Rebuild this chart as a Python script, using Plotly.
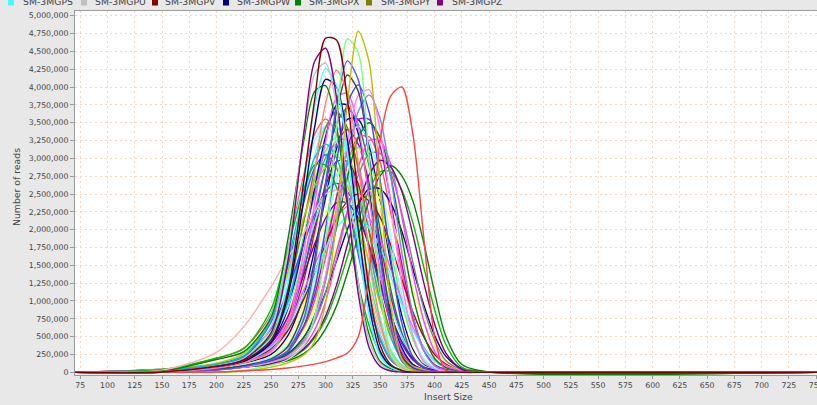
import plotly.graph_objects as go

# x positions (insert size) shared by all series
INSERT_SIZE = [70, 150, 200, 225, 250, 265, 280, 290, 300, 310, 320, 330, 340,
               350, 360, 370, 380, 390, 400, 410, 425, 450, 752]

# read counts in thousands, one list per sample
S21 = [0,36,190,340,817,1704,2769,3337,3550,3337,2769,1917,1101,533,195,71,21,7,4,0,0,0,0]
S22 = [0,20,92,165,462,990,1914,2574,3102,3300,3102,2574,1782,1023,495,182,66,20,7,3,0,0,0]
S23 = [0,20,72,130,293,585,1235,1885,2535,3055,3250,3055,2535,1755,1008,488,179,65,20,7,0,0,0]
S24 = [0,32,109,210,630,1330,2380,3045,3448,3448,3080,2310,1470,770,315,105,42,14,4,0,0,0,0]
S25 = [0,18,75,135,330,690,1440,2040,2610,2955,2955,2640,1980,1260,660,270,90,36,12,3,0,0,0]
S26 = [0,11,72,126,252,504,1080,1728,2448,3132,3546,3546,3168,2376,1512,792,324,108,43,14,4,0,0]
S27 = [0,19,90,160,448,960,1856,2496,3008,3200,3008,2496,1728,992,480,176,64,19,6,3,0,0,0]
S28 = [0,20,75,136,306,612,1292,1972,2652,3196,3400,3196,2652,1836,1054,510,187,68,20,7,0,0,0]
S29 = [0,28,96,186,558,1178,2108,2697,3054,3054,2728,2046,1302,682,279,93,37,12,3,0,0,0,0]
S30 = [0,10,64,112,224,448,960,1536,2176,2784,3152,3152,2816,2112,1344,704,288,96,38,13,3,0,0]
S31 = [0,20,83,149,363,759,1584,2244,2871,3251,3251,2904,2178,1386,726,297,99,40,13,3,0,0,0]
S32 = [0,22,81,148,333,666,1406,2146,2886,3478,3700,3478,2886,1998,1147,555,204,74,22,7,0,0,0]
S33 = [0,9,51,93,180,330,690,1140,1740,2340,2820,3000,2820,2340,1620,930,450,165,60,18,3,0,0]
S34 = [0,35,121,242,794,1656,2691,3243,3450,3243,2691,1863,1070,518,190,69,21,7,3,0,0,0,0]
S35 = [0,22,102,183,511,1095,2117,2847,3431,3650,3431,2847,1971,1132,548,201,73,22,7,4,0,0,0]
S36 = [0,10,50,94,168,302,603,1005,1608,2278,2915,3300,3300,2948,2211,1407,737,302,101,40,7,0,0]
S37 = [0,31,107,214,702,1464,2379,2867,3050,2867,2379,1647,946,458,168,61,18,6,3,0,0,0,0]
S38 = [0,9,54,98,189,347,725,1197,1827,2457,2961,3150,2961,2457,1701,977,473,173,63,19,3,0,0]
S39 = [0,11,54,101,180,324,648,1080,1728,2448,3132,3546,3546,3168,2376,1512,792,324,108,43,7,0,0]
S40 = [0,23,95,171,418,874,1824,2584,3306,3743,3743,3344,2508,1596,836,342,114,46,15,4,0,0,0]
S41 = [0,35,92,155,376,658,1152,1504,1857,2162,2327,2327,2162,1880,1434,1011,635,353,165,71,24,2,0]
S42 = [0,35,88,145,325,575,1025,1400,1800,2150,2400,2500,2400,2175,1775,1300,850,500,250,120,38,5,0]
S43 = [0,34,98,176,476,896,1596,2100,2520,2772,2772,2520,2072,1484,924,504,224,84,39,14,3,0,0]
S44 = [0,45,114,228,610,1140,1802,2226,2531,2650,2531,2239,1749,1219,742,398,172,69,32,11,3,0,0]
S45 = [0,20,61,99,179,319,587,905,1301,1734,2142,2435,2550,2435,2155,1683,1173,714,383,150,35,3,0]
S46 = [0,16,57,91,161,260,494,754,1118,1560,2002,2353,2574,2574,2366,1976,1456,949,520,230,50,5,0]
S47 = [0,33,86,145,352,616,1078,1408,1738,2024,2178,2178,2024,1760,1342,946,594,330,154,66,22,2,0]
S48 = [0,44,128,261,754,1392,2175,2610,2871,2871,2610,2146,1537,957,522,232,87,41,15,6,3,0,0]
S49 = [0,9,53,87,152,248,450,713,1116,1690,2263,2759,3069,3069,2790,2232,1550,899,450,170,40,3,0]
S50 = [0,29,84,151,408,768,1368,1800,2160,2376,2376,2160,1776,1272,792,432,192,72,34,12,2,0,0]
S51 = [0,10,59,107,207,380,794,1311,2001,2691,3243,3450,3243,2691,1863,1070,518,190,69,21,3,0,0]
S52 = [0,7,46,88,158,245,490,805,1330,2030,2730,3290,3500,3290,2730,1890,1085,525,193,70,14,0,0]
S53 = [0,3,40,73,132,198,363,594,990,1584,2244,2871,3251,3251,2904,2178,1386,726,297,99,20,0,0]
S54 = [0,32,112,224,736,1536,2496,3008,3200,3008,2496,1728,992,480,176,64,19,6,3,0,0,0,0]
S55 = [0,35,200,330,885,1711,2567,2906,2906,2596,1947,1239,649,266,89,35,12,3,0,0,0,0,0]
S17 = [0,9,43,74,125,182,312,483,738,1136,1619,2130,2556,2812,2812,2556,2102,1480,880,400,70,3,0]
S18 = [0,9,38,70,113,160,261,392,609,928,1392,1914,2407,2755,2900,2755,2407,1820,1120,520,110,5,0]
S19 = [0,6,42,75,125,179,328,507,790,1222,1788,2324,2771,2974,2876,2533,1937,1260,680,280,40,2,0]
S20 = [0,30,280,640,1200,1600,1950,2250,2500,2550,2350,1850,1200,620,250,80,20,5,0,0,0,0,0]
S16 = [0,8,71,138,308,652,1501,2370,3239,3851,3911,3437,2449,1422,652,217,71,20,4,0,0,0,0]
S15 = [0,0,35,74,140,222,420,720,1284,2101,2956,3657,3890,3559,2723,1673,817,303,93,27,4,0,0]
S14 = [0,0,36,85,169,282,645,1169,2015,2942,3768,4030,3647,2700,1572,685,222,69,16,4,0,0,0]
S13 = [0,0,28,72,140,220,420,760,1360,2280,3200,3880,3960,3400,2320,1240,520,152,48,12,0,0,0]
S12 = [0,4,71,150,417,1043,2419,3440,4107,4003,3253,2002,917,300,83,21,4,0,0,0,0,0,0]
S11 = [0,0,38,92,189,356,859,1592,2640,3645,4169,3939,3017,1760,775,230,67,17,4,0,0,0,0]
S10 = [0,0,59,131,288,678,1696,2798,3774,4236,3922,2926,1654,721,212,59,13,4,0,0,0,0,0]
S09 = [0,16,180,290,771,1827,3248,3938,4019,3451,2355,1259,528,154,49,12,0,0,0,0,0,0,0]
S08 = [0,0,31,79,176,300,750,1499,2602,3749,4366,4101,2999,1632,617,154,40,9,0,0,0,0,0]
S07 = [0,9,81,171,471,1220,2696,3724,4259,4023,3082,1798,792,235,68,17,4,0,0,0,0,0,0]
S06 = [0,9,92,197,635,1664,3329,4183,4336,3745,2497,1270,438,123,31,9,0,0,0,0,0,0,0]
S04 = [0,5,83,179,551,1515,3351,4361,4544,3856,2387,1102,344,83,18,5,0,0,0,0,0,0,0]
S03 = [0,5,86,167,454,1099,2677,3824,4684,4661,3824,2438,1147,382,105,24,5,0,0,0,0,0,0]
S02 = [0,0,0,29,100,176,372,787,1813,3434,4675,4484,2957,1193,262,48,10,0,0,0,0,0,0]
S01 = [0,0,0,14,72,130,242,435,966,2125,3767,4782,4347,2608,918,184,29,5,0,0,0,0,0]
S05 = [0,0,5,20,40,60,90,115,150,200,270,500,1400,3250,3880,4000,3350,1900,500,30,0,0,0]

SERIES = [
    ("SM-3MG21", "#ff5555", S21), ("SM-3MG22", "#55ff55", S22), ("SM-3MG23", "#ffff55", S23),
    ("SM-3MG24", "#55ffff", S24), ("SM-3MG25", "#c00000", S25), ("SM-3MG26", "#0000c0", S26),
    ("SM-3MG27", "#00c0c0", S27), ("SM-3MG28", "#c000c0", S28), ("SM-3MG29", "#40ff40", S29),
    ("SM-3MG30", "#ffff40", S30), ("SM-3MG31", "#ff40ff", S31), ("SM-3MG32", "#008080", S32),
    ("SM-3MG33", "#ffff80", S33), ("SM-3MG34", "#80ffff", S34), ("SM-3MGPY", "#808000", S35),
    ("SM-3MG36", "#ff5555", S36), ("SM-3MG37", "#5555ff", S37), ("SM-3MG38", "#55ff55", S38),
    ("SM-3MG39", "#c000c0", S39), ("SM-3MG40", "#0000c0", S40), ("SM-3MG41", "#ff55ff", S41),
    ("SM-3MG42", "#c00000", S42), ("SM-3MG43", "#55ffff", S43), ("SM-3MG44", "#4040ff", S44),
    ("SM-3MG45", "#ffff55", S45), ("SM-3MGPW", "#000080", S46), ("SM-3MG47", "#40ffff", S47),
    ("SM-3MG48", "#c0c000", S48), ("SM-3MG49", "#808080", S49), ("SM-3MG50", "#800080", S50),
    ("SM-3MG51", "#80ffff", S51), ("SM-3MG52", "#008000", S52), ("SM-3MG53", "#ff40ff", S53),
    ("SM-3MG54", "#00c0c0", S54), ("SM-3MG55", "#00c000", S55),
    ("SM-3MG17", "#00c000", S17), ("SM-3MGPX", "#008000", S18), ("SM-3MG19", "#800080", S19),
    ("SM-3MG20", "#ffafaf", S20), ("SM-3MG16", "#ff55ff", S16), ("SM-3MG15", "#8080ff", S15),
    ("SM-3MG14", "#4040ff", S14), ("SM-3MG13", "#ff80ff", S13), ("SM-3MG12", "#000080", S12),
    ("SM-3MG11", "#404040", S11), ("SM-3MG10", "#ff8080", S10), ("SM-3MG09", "#008000", S09),
    ("SM-3MG08", "#5555ff", S08), ("SM-3MGPS", "#40ffff", S07), ("SM-3MGPU", "#c0c0c0", S06),
    ("SM-3MGPZ", "#800080", S04), ("SM-3MG02", "#80ff80", S02), ("SM-3MG01", "#c0c000", S01),
    ("SM-3MG05", "#ff4040", S05), ("SM-3MGPV", "#800000", S03),
]

LEGEND_NAMES = ["SM-3MGPS", "SM-3MGPU", "SM-3MGPV", "SM-3MGPW", "SM-3MGPX", "SM-3MGPY", "SM-3MGPZ"]
LEGEND_COLORS = ["#40ffff", "#c0c0c0", "#800000", "#000080", "#008000", "#808000", "#800080"]

X_TICKS = list(range(75, 751, 25))
Y_TICKS = list(range(0, 5000001, 250000))

W, H = 817, 405
ML, MR, MT, MB = 75, 0, 11, 30
PW, PH = W - ML - MR, H - MT - MB
FONT = "DejaVu Sans"
GRID = "#f3d8c6"

fig = go.Figure()
for name, color, vals in SERIES:
    fig.add_trace(go.Scatter(
        x=INSERT_SIZE, y=[v * 1000 for v in vals], mode="lines", name=name,
        line=dict(color=color, width=1.4, shape="spline", smoothing=0.8),
        showlegend=False, hoverinfo="skip"))


def px_x(px):
    return (px - ML) / PW


def px_y(py):
    return (H - MB - py) / PH


annotations = []
shapes = []
sq_left = [8, 81, 152, 223, 295, 366, 437]
txt_left = [21, 93, 163, 235, 307, 379, 450]
for i, (nm, col) in enumerate(zip(LEGEND_NAMES, LEGEND_COLORS)):
    shapes.append(dict(type="rect", xref="paper", yref="paper",
                       x0=px_x(sq_left[i]), x1=px_x(sq_left[i] + 6),
                       y0=px_y(5.5), y1=px_y(-2), fillcolor=col, line=dict(width=0)))
    annotations.append(dict(text=nm, xref="paper", yref="paper", x=px_x(txt_left[i]), y=px_y(1.5),
                            xanchor="left", yanchor="middle", showarrow=False,
                            font=dict(family=FONT, size=9.3, color="#444444")))

annotations.append(dict(text="Number of reads", xref="paper", yref="paper", x=px_x(17), y=px_y(187),
                        xanchor="center", yanchor="middle", textangle=-90, showarrow=False,
                        font=dict(family=FONT, size=9.3, color="#444444")))
annotations.append(dict(text="Insert Size", xref="paper", yref="paper", x=px_x(448), y=px_y(396),
                        xanchor="center", yanchor="middle", showarrow=False,
                        font=dict(family=FONT, size=9.3, color="#444444")))

fig.update_layout(
    width=W, height=H, margin=dict(l=ML, r=MR, t=MT, b=MB, pad=0, autoexpand=False),
    paper_bgcolor="#e8e8e8", plot_bgcolor="#ffffff",
    showlegend=False, annotations=annotations, shapes=shapes,
    xaxis=dict(range=[70.14, 750.8], tickmode="array", tickvals=X_TICKS,
               ticktext=[str(v) for v in X_TICKS], ticklabeloverflow="allow",
               automargin=False,
               showgrid=True, gridcolor=GRID, griddash="2px,3px", gridwidth=1,
               showline=True, linecolor="#9a9a9a", linewidth=1, mirror=True,
               ticks="outside", ticklen=3, tickcolor="#9a9a9a", zeroline=False,
               tickfont=dict(family=FONT, size=7.8, color="#444444")),
    yaxis=dict(range=[-37900, 5065900], tickmode="array", tickvals=Y_TICKS,
               ticktext=[f"{v:,}" for v in Y_TICKS], automargin=False,
               showgrid=True, gridcolor=GRID, griddash="2px,3px", gridwidth=1,
               showline=True, linecolor="#9a9a9a", linewidth=1,
               ticks="outside", ticklen=4, tickcolor="#9a9a9a", zeroline=False,
               tickfont=dict(family=FONT, size=7.8, color="#444444")),
)

fig.write_html("out.html")
